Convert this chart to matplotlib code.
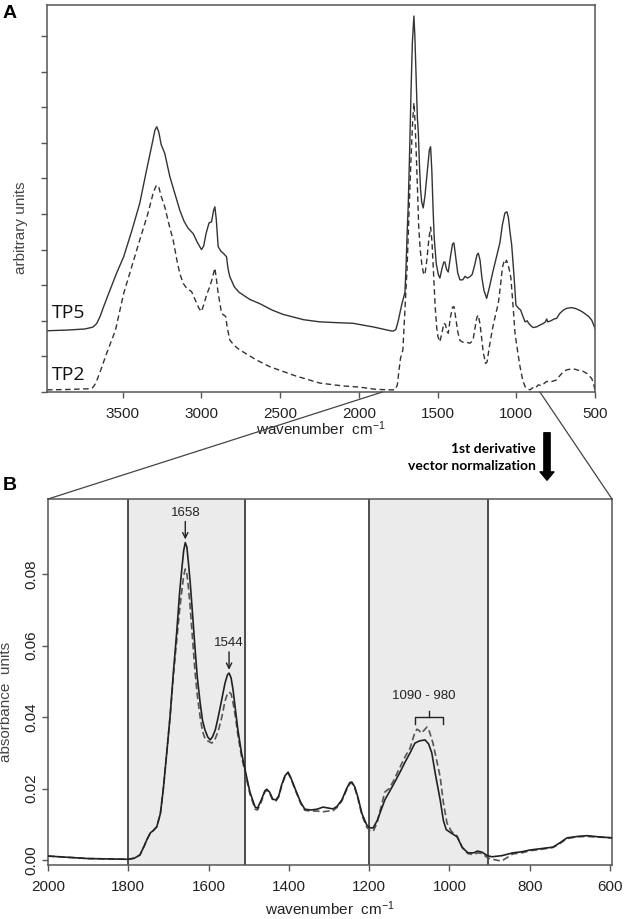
import matplotlib
matplotlib.use("Agg")
import matplotlib.pyplot as plt
from matplotlib.patches import ConnectionPatch, FancyArrowPatch

plt.rcParams['font.family'] = ['Liberation Sans', 'DejaVu Sans']
plt.rcParams['mathtext.default'] = 'regular'

# --- Panel A: raw spectra, (wavenumber, arbitrary units) ---
tp5 = [(3980, 1.72), (3850, 1.74), (3740, 1.77), (3690, 1.82), (3665, 1.92), (3645, 2.1),
       (3620, 2.4), (3590, 2.75), (3537, 3.35), (3493, 3.8), (3440, 4.55), (3391, 5.3),
       (3346, 6.27), (3310, 7.02), (3295, 7.35), (3283, 7.45), (3270, 7.3), (3255, 6.95),
       (3232, 6.7), (3200, 6.05), (3170, 5.6), (3137, 5.11), (3110, 4.8), (3084, 4.6),
       (3052, 4.45), (3025, 4.2), (2999, 4.0), (2985, 4.1), (2970, 4.45), (2951, 4.75),
       (2935, 4.78), (2922, 5.1), (2914, 5.2), (2905, 4.85), (2893, 4.08), (2875, 3.95),
       (2861, 3.9), (2840, 3.8), (2830, 3.45), (2819, 3.24), (2790, 2.95), (2760, 2.8),
       (2692, 2.6), (2628, 2.48), (2550, 2.3), (2481, 2.18), (2350, 2.03), (2247, 1.97),
       (2150, 1.95), (2037, 1.93), (1900, 1.82), (1800, 1.72), (1783, 1.71), (1765, 1.75),
       (1751, 1.97), (1728, 2.44), (1707, 2.8), (1700, 3.5), (1693, 4.46), (1686, 5.25),
       (1677, 6.8), (1668, 8.5), (1660, 9.8), (1650, 10.56), (1644, 10.0), (1636, 8.8),
       (1628, 7.7), (1622, 7.3), (1615, 6.4), (1608, 5.7), (1601, 5.35), (1591, 5.17),
       (1580, 5.5), (1565, 6.2), (1552, 6.8), (1544, 6.89), (1536, 6.2), (1528, 5.1),
       (1521, 4.33), (1508, 3.6), (1495, 3.3), (1485, 3.2), (1470, 3.5), (1460, 3.65),
       (1453, 3.65), (1443, 3.45), (1432, 3.37), (1418, 3.8), (1405, 4.15), (1396, 4.19),
       (1385, 3.8), (1372, 3.35), (1358, 3.15), (1340, 3.15), (1325, 3.25), (1310, 3.2),
       (1294, 3.24), (1280, 3.3), (1262, 3.6), (1250, 3.85), (1241, 3.9), (1230, 3.7),
       (1218, 3.2), (1205, 2.85), (1188, 2.63), (1170, 2.95), (1150, 3.35), (1125, 3.8),
       (1104, 4.19), (1088, 4.7), (1072, 5.03), (1059, 5.06), (1050, 4.9), (1040, 4.5),
       (1029, 4.13), (1015, 3.3), (1002, 2.44), (985, 2.35), (972, 2.3), (960, 2.15),
       (944, 1.97), (930, 2.0), (923, 1.94), (905, 1.85), (892, 1.81), (870, 1.83),
       (850, 1.88), (830, 1.92), (815, 1.97), (807, 2.05), (800, 1.97), (780, 2.0),
       (760, 2.05), (743, 2.07), (725, 2.2), (701, 2.3), (680, 2.35), (650, 2.37),
       (627, 2.35), (600, 2.3), (580, 2.25), (564, 2.2), (540, 2.12), (521, 2.02),
       (510, 1.9), (500, 1.79)]

tp2 = [(3980, 0.06), (3850, 0.07), (3720, 0.09), (3690, 0.12), (3670, 0.25), (3640, 0.6),
       (3600, 1.1), (3545, 1.74), (3493, 2.77), (3440, 3.55), (3391, 4.27), (3340, 5.0),
       (3305, 5.6), (3285, 5.81), (3270, 5.75), (3255, 5.5), (3232, 5.2), (3205, 4.7),
       (3179, 4.27), (3155, 3.7), (3137, 3.33), (3115, 3.05), (3094, 2.92), (3062, 2.82),
       (3040, 2.6), (3015, 2.35), (2999, 2.26), (2985, 2.45), (2965, 2.75), (2946, 2.96),
       (2930, 3.2), (2914, 3.48), (2905, 3.2), (2893, 2.77), (2880, 2.45), (2872, 2.21),
       (2845, 2.12), (2835, 1.8), (2819, 1.46), (2790, 1.3), (2755, 1.18), (2650, 0.9),
       (2565, 0.71), (2400, 0.45), (2247, 0.25), (2100, 0.17), (2000, 0.14), (1900, 0.08),
       (1821, 0.06), (1770, 0.06), (1755, 0.2), (1745, 0.6), (1735, 0.95), (1720, 1.18),
       (1708, 2.2), (1693, 3.52), (1680, 5.2), (1668, 6.6), (1658, 7.6), (1650, 8.12),
       (1643, 7.6), (1636, 6.8), (1628, 5.8), (1620, 4.7), (1610, 4.0), (1600, 3.6),
       (1590, 3.35), (1580, 3.29), (1568, 3.7), (1555, 4.3), (1544, 4.63), (1535, 4.2),
       (1525, 3.3), (1515, 2.4), (1505, 1.8), (1497, 1.55), (1485, 1.41), (1470, 1.7),
       (1460, 1.93), (1450, 1.9), (1440, 1.7), (1432, 1.65), (1418, 2.1), (1405, 2.38),
       (1396, 2.4), (1385, 2.1), (1372, 1.7), (1358, 1.45), (1340, 1.4), (1320, 1.4),
       (1294, 1.37), (1275, 1.45), (1262, 1.8), (1250, 2.1), (1241, 2.16), (1230, 1.9),
       (1218, 1.45), (1209, 1.1), (1195, 0.8), (1185, 0.85), (1170, 1.3), (1150, 1.8),
       (1130, 2.2), (1114, 2.49), (1100, 3.0), (1088, 3.5), (1078, 3.66), (1070, 3.6),
       (1062, 3.7), (1055, 3.62), (1045, 3.45), (1034, 3.2), (1020, 2.4), (1008, 1.65),
       (990, 1.1), (976, 0.71), (960, 0.35), (944, 0.15), (925, 0.08), (913, 0.06),
       (895, 0.12), (881, 0.1), (860, 0.2), (840, 0.18), (820, 0.25), (807, 0.3),
       (790, 0.28), (770, 0.3), (743, 0.34), (725, 0.45), (701, 0.57), (680, 0.62),
       (650, 0.65), (627, 0.64), (600, 0.6), (575, 0.58), (551, 0.52), (521, 0.38),
       (510, 0.25), (500, 0.06)]

# --- Panel B: 1st derivative, vector normalized (wavenumber, absorbance units) ---
b_tp5 = [(2000, 0.0011), (1900, 0.0004), (1800, 0.0002), (1785, 0.0005), (1771, 0.0014),
         (1760, 0.004), (1754, 0.0056), (1745, 0.0076), (1738, 0.0082), (1729, 0.0093),
         (1720, 0.013), (1713, 0.0196), (1705, 0.029), (1696, 0.040), (1688, 0.052),
         (1679, 0.0643), (1672, 0.075), (1667, 0.081), (1662, 0.0866), (1658, 0.0888),
         (1654, 0.0875), (1650, 0.083), (1646, 0.078), (1640, 0.069), (1634, 0.0596),
         (1628, 0.051), (1621, 0.044), (1615, 0.039), (1609, 0.0364), (1602, 0.0344),
         (1596, 0.0336), (1590, 0.0345), (1583, 0.0365), (1576, 0.040), (1567, 0.045),
         (1559, 0.0495), (1553, 0.0518), (1549, 0.0523), (1544, 0.051), (1539, 0.0476),
         (1533, 0.042), (1527, 0.0364), (1518, 0.030), (1509, 0.0252), (1497, 0.019),
         (1484, 0.0148), (1478, 0.0145), (1468, 0.017), (1460, 0.0193), (1455, 0.0198),
         (1448, 0.019), (1440, 0.017), (1432, 0.0168), (1425, 0.018), (1418, 0.021),
         (1410, 0.0235), (1402, 0.0246), (1395, 0.023), (1388, 0.021), (1380, 0.0187),
         (1370, 0.016), (1360, 0.0142), (1345, 0.014), (1330, 0.0142), (1315, 0.0148),
         (1300, 0.0145), (1290, 0.0143), (1280, 0.015), (1268, 0.0168), (1256, 0.020),
         (1248, 0.0217), (1243, 0.0218), (1236, 0.0205), (1228, 0.0176), (1218, 0.013),
         (1206, 0.0098), (1198, 0.009), (1190, 0.009), (1180, 0.011), (1161, 0.0168),
         (1140, 0.021), (1123, 0.0246), (1110, 0.0275), (1098, 0.030), (1086, 0.0327),
         (1075, 0.0333), (1061, 0.0336), (1052, 0.0325), (1044, 0.030), (1035, 0.024),
         (1023, 0.0168), (1015, 0.011), (1008, 0.0085), (995, 0.0075), (981, 0.0065),
         (968, 0.0035), (954, 0.002), (940, 0.002), (930, 0.0025), (919, 0.0022),
         (905, 0.0012), (894, 0.0009), (870, 0.0012), (842, 0.002), (820, 0.0023),
         (799, 0.0028), (770, 0.0032), (742, 0.0036), (725, 0.0048), (707, 0.0062),
         (680, 0.0066), (657, 0.0068), (630, 0.0065), (595, 0.0062)]

b_tp2 = [(2000, 0.0011), (1900, 0.0004), (1800, 0.0002), (1785, 0.0005), (1771, 0.0014),
         (1760, 0.004), (1754, 0.0056), (1745, 0.0076), (1738, 0.0082), (1729, 0.0093),
         (1720, 0.013), (1713, 0.0196), (1705, 0.029), (1696, 0.040), (1688, 0.051),
         (1679, 0.062), (1672, 0.070), (1667, 0.075), (1662, 0.0795), (1658, 0.0814),
         (1654, 0.080), (1650, 0.076), (1646, 0.071), (1640, 0.062), (1634, 0.053),
         (1628, 0.046), (1621, 0.040), (1615, 0.036), (1609, 0.034), (1602, 0.0333),
         (1592, 0.0327), (1585, 0.0335), (1576, 0.036), (1567, 0.040), (1559, 0.0445),
         (1553, 0.0465), (1549, 0.047), (1544, 0.0465), (1539, 0.044), (1533, 0.040),
         (1527, 0.035), (1518, 0.029), (1509, 0.0245), (1497, 0.0185), (1484, 0.0142),
         (1478, 0.014), (1468, 0.0165), (1460, 0.019), (1455, 0.0195), (1448, 0.0187),
         (1440, 0.0167), (1432, 0.0165), (1425, 0.0177), (1418, 0.0207), (1410, 0.0232),
         (1402, 0.0243), (1395, 0.0228), (1388, 0.0207), (1380, 0.0185), (1370, 0.0157),
         (1360, 0.0139), (1345, 0.0137), (1330, 0.0137), (1315, 0.0135), (1300, 0.0137),
         (1290, 0.0138), (1280, 0.0147), (1268, 0.0165), (1256, 0.0197), (1248, 0.0214),
         (1243, 0.0215), (1236, 0.0202), (1228, 0.0172), (1218, 0.0125), (1206, 0.0092),
         (1198, 0.0082), (1190, 0.008), (1180, 0.0105), (1161, 0.019), (1150, 0.020),
         (1140, 0.022), (1123, 0.026), (1110, 0.029), (1098, 0.0313), (1088, 0.035),
         (1081, 0.0366), (1075, 0.0362), (1071, 0.0355), (1064, 0.0362), (1056, 0.0372),
         (1050, 0.036), (1041, 0.0327), (1032, 0.028), (1023, 0.0232), (1015, 0.016),
         (1006, 0.0103), (995, 0.008), (981, 0.0067), (968, 0.0035), (954, 0.0018),
         (940, 0.0015), (930, 0.002), (919, 0.0018), (905, 0.0006), (894, 0.0002),
         (870, -0.0003), (842, 0.0017), (820, 0.002), (799, 0.0026), (770, 0.003),
         (742, 0.0035), (725, 0.0046), (707, 0.006), (680, 0.0065), (657, 0.0066),
         (630, 0.0064), (595, 0.0062)]

shaded_ranges = [(1800, 1510), (1200, 905)]

line_col = '#333333'
spine_col = '#555555'
text_col = '#222222'

fig = plt.figure(figsize=(6.3, 9.19), dpi=100)

# ========================
# Panel A
# ========================
axA = fig.add_axes([47 / 630, 1 - 392 / 919, 548 / 630, 387 / 919])
wn, val = zip(*tp5)
axA.plot(wn, val, color=line_col, lw=1.0)
wn, val = zip(*tp2)
axA.plot(wn, val, color=line_col, lw=1.0, linestyle=(0, (4, 2.5)))
axA.set_xlim(3980, 500)
axA.set_ylim(0, 10.87)
axA.set_xticks([3500, 3000, 2500, 2000, 1500, 1000, 500])
axA.set_yticks(range(0, 11))
axA.set_yticklabels([])
axA.tick_params(direction='out', length=4, width=1, colors=spine_col, labelcolor=text_col,
                labelsize=11, pad=7)
for sp in axA.spines.values():
    sp.set_color(spine_col)
    sp.set_linewidth(1.1)
axA.set_xlabel('wavenumber  cm$^{-1}$', fontsize=11, color=text_col, labelpad=-1)
axA.set_ylabel('arbitrary units', fontsize=11, color='#444444')
axA.yaxis.set_label_coords(-0.035, 0.424)
axA.text(3950, 2.22, 'TP5', fontsize=14, family='Open Sans', va='center', ha='left', color='#111111')
axA.text(3950, 0.48, 'TP2', fontsize=14, family='Open Sans', va='center', ha='left', color='#111111')

# ========================
# Panel B
# ========================
axB = fig.add_axes([48 / 630, 1 - 865 / 919, 564 / 630, 366 / 919])
for lo, hi in shaded_ranges:
    axB.axvspan(hi, lo, color='#ebebeb', zorder=0)
    axB.axvline(lo, color=text_col, lw=1.1, zorder=1)
    axB.axvline(hi, color=text_col, lw=1.1, zorder=1)
wn, val = zip(*b_tp2)
axB.plot(wn, val, color='#555555', lw=1.2, linestyle=(0, (4, 2)), zorder=3)
wn, val = zip(*b_tp5)
axB.plot(wn, val, color=text_col, lw=1.2, zorder=4)
axB.set_xlim(2000, 595)
axB.set_ylim(-0.0014, 0.101)
axB.set_xticks([2000, 1800, 1600, 1400, 1200, 1000, 800, 600])
axB.set_yticks([0.0, 0.02, 0.04, 0.06, 0.08])
axB.set_yticklabels(['0.00', '0.02', '0.04', '0.06', '0.08'], rotation=90, va='center')
axB.tick_params(direction='out', length=4, width=1, colors=spine_col, labelcolor=text_col,
                labelsize=11, pad=7)
axB.tick_params(axis='y', pad=3)
for sp in axB.spines.values():
    sp.set_color(spine_col)
    sp.set_linewidth(1.1)
axB.set_xlabel('wavenumber  cm$^{-1}$', fontsize=11, color=text_col, labelpad=4)
axB.set_ylabel('absorbance  units', fontsize=11, color='#444444')
axB.yaxis.set_label_coords(-0.062, 0.445)

# peak labels
axB.annotate('1658', xy=(1658, 0.0897), xytext=(1658, 0.0955), ha='center', va='bottom',
             fontsize=9.5, color=text_col,
             arrowprops=dict(arrowstyle='->', color=text_col, lw=1, shrinkA=0, shrinkB=0))
axB.annotate('1544', xy=(1549, 0.0532), xytext=(1549, 0.0590), ha='center', va='bottom',
             fontsize=9.5, color=text_col,
             arrowprops=dict(arrowstyle='->', color=text_col, lw=1, shrinkA=0, shrinkB=0))
# bracket over 1090 - 980
axB.plot([1086, 1086, 1016, 1016], [0.0380, 0.0401, 0.0401, 0.0380], color=text_col, lw=1)
axB.plot([1050, 1050], [0.0401, 0.0417], color=text_col, lw=1)
axB.text(1065, 0.0459, '1090 - 980', ha='center', va='center', fontsize=9.5, color=text_col)

# connector lines between the panels
for xa, xb in [(1850, 0.0), (850, 1.0)]:
    con = ConnectionPatch(xyA=(xa, 0), coordsA=axA.transData,
                          xyB=(xb, 1.0), coordsB=axB.transAxes,
                          color='#444444', lw=0.9)
    fig.add_artist(con)

# processing arrow + text
fig.text(536 / 630, 1 - 449 / 919, '1st derivative', ha='right', va='center',
         fontsize=10, fontweight='bold', family='Lato')
fig.text(536 / 630, 1 - 466 / 919, 'vector normalization', ha='right', va='center',
         fontsize=10, fontweight='bold', family='Lato')
fig.add_artist(FancyArrowPatch(
    (547 / 630, 1 - 430 / 919), (547 / 630, 1 - 483 / 919), transform=fig.transFigure,
    arrowstyle='simple,head_width=1.0,head_length=0.6,tail_width=0.45',
    mutation_scale=10, color='black'))

# panel letters
fig.text(3 / 630, 1 - 14 / 919, 'A', fontsize=14, fontweight='bold', va='center', ha='left')
fig.text(3 / 630, 1 - 486 / 919, 'B', fontsize=14, fontweight='bold', va='center', ha='left')

fig.savefig('out.png', dpi=100)
